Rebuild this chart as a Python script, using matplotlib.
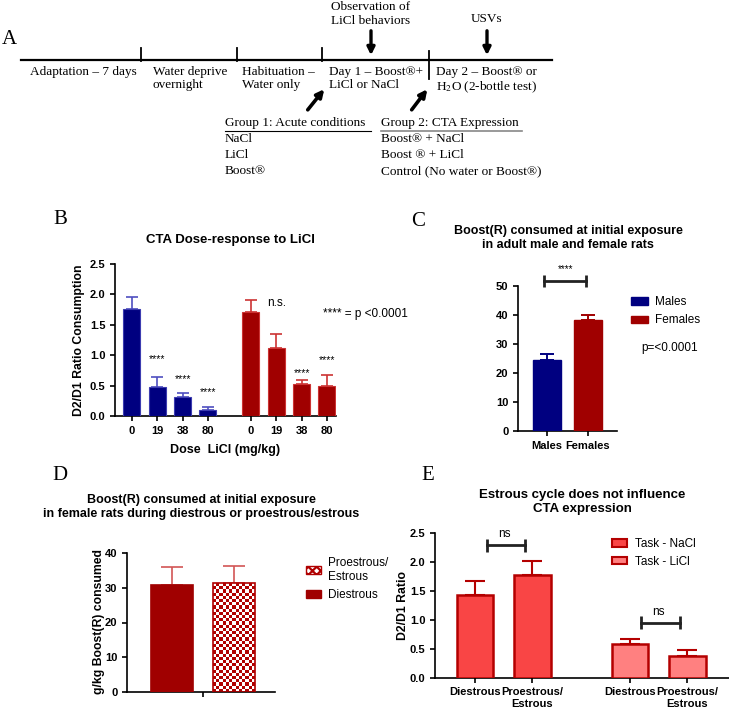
import matplotlib
matplotlib.use('Agg')
import matplotlib.pyplot as plt
import matplotlib.patches as mpatches
from matplotlib.colors import ListedColormap
import numpy as np

plt.rcParams.update({
    'font.family': 'Liberation Sans',
    'axes.linewidth': 1.2,
    'xtick.major.width': 1.2,
    'ytick.major.width': 1.2,
    'xtick.major.size': 3.5,
    'ytick.major.size': 3.5,
    'xtick.labelsize': 8,
    'ytick.labelsize': 8,
    'hatch.linewidth': 1.6,
    'mathtext.fontset': 'stix',
})

W, H = 729, 709
SERIF = 'Liberation Serif'

# ---------------- dados ----------------
# A: linha do tempo
stages = ['Adaptation – 7 days', 'Water deprive\novernight', 'Habituation –\nWater only',
          'Day 1 – Boost®+\nLiCl or NaCl', 'Day 2 – Boost® or\nH$_2$O (2-bottle test)']
events = ['Observation of\nLiCl behaviors', 'USVs']
group1 = ['Group 1: Acute conditions', 'NaCl', 'LiCl', 'Boost®']
group2 = ['Group 2: CTA Expression', 'Boost® + NaCl', 'Boost ® + LiCl', 'Control (No water or Boost®)']

# B: dose-resposta
doses = ['0', '19', '38', '80']
b_blue = [1.76, 0.47, 0.31, 0.10]
b_blue_err = [0.20, 0.17, 0.07, 0.05]
b_red = [1.71, 1.12, 0.53, 0.49]
b_red_err = [0.20, 0.23, 0.07, 0.18]
b_blue_sig = ['', '****', '****', '****']
b_red_sig = ['', 'n.s.', '****', '****']
b_blue_sig_y = [0, 0.93, 0.60, 0.39]
b_red_sig_y = [0, 1.86, 0.71, 0.92]

# C: machos vs femeas
sexes = ['Males', 'Females']
c_vals = [24.5, 38.2]
c_err = [2.1, 1.7]

# D: fase do ciclo
phases = ['Diestrous', 'Proestrous/\nEstrous']
d_vals = [30.9, 31.3]
d_err = [5.1, 5.0]

# E: expressao CTA
e_ticklabels = ['Diestrous', 'Proestrous/\nEstrous']
e_nacl = [1.42, 1.77]
e_nacl_err = [0.24, 0.25]
e_licl = [0.58, 0.38]
e_licl_err = [0.08, 0.10]
e_bracket_y = [2.28, 0.95]

NAVY = '#000080'
DRED = '#A00000'

fig = plt.figure(figsize=(W / 100, H / 100), dpi=100)


def px_axes(left, top, right, bottom):
    return fig.add_axes([left / W, 1 - bottom / H, (right - left) / W, (bottom - top) / H])


def fx(x):
    return x / W


def fy(y):
    return 1 - y / H


def style_axes(ax):
    ax.spines['top'].set_visible(False)
    ax.spines['right'].set_visible(False)
    ax.tick_params(direction='out')
    for lbl in ax.get_xticklabels() + ax.get_yticklabels():
        lbl.set_fontweight('bold')


# ═══════════ A: esquema ═══════════
axA = fig.add_axes([0, 0, 1, 1], zorder=0)
axA.set_xlim(0, W)
axA.set_ylim(H, 0)
axA.axis('off')

axA.plot([21, 552], [60, 60], color='black', lw=1.6)
for x in [141.5, 237, 322]:
    axA.plot([x, x], [48, 61], color='black', lw=1.3)
axA.plot([429, 429], [51, 79], color='black', lw=1.3)

stage_x = [30, 153, 242, 329, 436]
for x, s in zip(stage_x, stages):
    axA.text(x, 66, s, ha='left', va='top', fontsize=9.5, family=SERIF, linespacing=1.15)

event_x = [371, 487]
axA.text(event_x[0], 14, events[0], ha='center', va='center', fontsize=9.5, family=SERIF,
         linespacing=1.15)
axA.text(event_x[1], 19, events[1], ha='center', va='center', fontsize=9.5, family=SERIF)
for x in event_x:
    axA.annotate('', xy=(x, 58), xytext=(x, 28),
                 arrowprops=dict(arrowstyle='-|>', lw=2.4, color='black', mutation_scale=11))

axA.annotate('', xy=(326, 87), xytext=(306, 112),
             arrowprops=dict(arrowstyle='-|>', lw=2.6, color='black', mutation_scale=11))
axA.annotate('', xy=(429, 87), xytext=(410, 112),
             arrowprops=dict(arrowstyle='-|>', lw=2.6, color='black', mutation_scale=11))

for i, (g1, g2) in enumerate(zip(group1, group2)):
    axA.text(225, 123 + i * 16, g1, ha='left', va='center', fontsize=9.5, family=SERIF)
    axA.text(381, 123 + i * 16, g2, ha='left', va='center', fontsize=9.5, family=SERIF)
axA.plot([225, 371], [131, 131], color='black', lw=0.8)
axA.plot([381, 522], [131, 131], color='#888888', lw=1.2)

for letter, (x, y) in zip('ABCDE', [(9, 39), (60, 220), (418, 221), (60, 476), (428, 475)]):
    axA.text(x, y, letter, ha='center', va='center', fontsize=15, family=SERIF)

# ═══════════ B ═══════════
axB = px_axes(115, 264, 336, 416)
xb_blue = np.arange(len(doses))
xb_red = np.arange(len(doses)) + 4.7
axB.bar(xb_blue, b_blue, width=0.67, color=NAVY, edgecolor='#3C3CB0', lw=0.8, zorder=3)
axB.errorbar(xb_blue, b_blue, yerr=[np.zeros(4), b_blue_err], fmt='none', ecolor='#4F4FC0',
             elinewidth=1.2, capsize=4.3, capthick=1.2, zorder=2)
axB.bar(xb_red, b_red, width=0.67, color=DRED, edgecolor='#CC3333', lw=0.8, zorder=3)
axB.errorbar(xb_red, b_red, yerr=[np.zeros(4), b_red_err], fmt='none', ecolor='#CC3333',
             elinewidth=1.2, capsize=4.3, capthick=1.2, zorder=2)
for xs, labels, ys in [(xb_blue, b_blue_sig, b_blue_sig_y), (xb_red, b_red_sig, b_red_sig_y)]:
    for x, lab, y in zip(xs, labels, ys):
        if lab:
            fs = 8.5 if lab == 'n.s.' else 7.5
            axB.text(x, y, lab, ha='center', va='center', fontsize=fs)
axB.set_xlim(-0.67, 8.06)
axB.set_ylim(0, 2.5)
axB.set_yticks(np.arange(0, 2.51, 0.5))
axB.set_yticklabels([f'{v:.1f}' for v in np.arange(0, 2.51, 0.5)])
axB.set_xticks(np.concatenate([xb_blue, xb_red]))
axB.set_xticklabels(doses + doses)
axB.set_xlabel('Dose  LiCl (mg/kg)', fontsize=9, fontweight='bold', labelpad=6)
style_axes(axB)
fig.text(fx(79), fy(340), 'D2/D1 Ratio Consumption', rotation=90, ha='center', va='center',
         fontsize=8.8, fontweight='bold')
fig.text(fx(230), fy(240), 'CTA Dose-response to LiCl', ha='center', va='center',
         fontsize=9.5, fontweight='bold')
fig.text(fx(323), fy(314), '**** = p <0.0001', ha='left', va='center', fontsize=8.5)

# ═══════════ C ═══════════
axC = px_axes(518, 286, 617, 431)
xc = np.arange(len(sexes))
c_colors = [NAVY, DRED]
axC.bar(xc, c_vals, width=0.68, color=c_colors, edgecolor=c_colors, zorder=3)
for x, v, e, c in zip(xc, c_vals, c_err, c_colors):
    axC.errorbar(x, v, yerr=[[0], [e]], fmt='none', ecolor=c, elinewidth=1.4, capsize=5,
                 capthick=1.4, zorder=2)
axC.set_xlim(-0.71, 1.71)
axC.set_ylim(0, 50)
axC.set_yticks(np.arange(0, 51, 10))
axC.set_xticks(xc)
axC.set_xticklabels(sexes)
style_axes(axC)
by = 51.7
axC.plot([xc[0] - 0.07, xc[1] - 0.05], [by, by], color='#222222', lw=2, clip_on=False)
axC.vlines([xc[0] - 0.07, xc[1] - 0.05], by - 2.2, by + 2.2, color='#222222', lw=2, clip_on=False)
axC.text((xc[0] + xc[1]) / 2 - 0.04, by + 4.2, '****', ha='center', va='center', fontsize=7,
         clip_on=False)
fig.text(fx(568), fy(238), 'Boost(R) consumed at initial exposure\nin adult male and female rats',
         ha='center', va='center', fontsize=9, fontweight='bold', linespacing=1.25)
c_handles = [mpatches.Patch(facecolor=c, edgecolor=c) for c in c_colors]
fig.legend(c_handles, sexes, loc='upper left', bbox_to_anchor=(fx(631), fy(296)), frameon=False,
           borderpad=0, borderaxespad=0, handlelength=1.45, handleheight=0.6, handletextpad=0.6,
           labelspacing=0.55, fontsize=8.5)
fig.text(fx(641), fy(348), 'p=<0.0001', ha='left', va='center', fontsize=8.5)

# ═══════════ D ═══════════
axD = px_axes(127, 553, 275, 692)
xd = np.arange(len(phases))
bars_d = axD.bar(xd, d_vals, width=0.68, color=[DRED, 'none'], edgecolor=[DRED, '#B00000'],
                 lw=1.2, zorder=3)
axD.errorbar(xd, d_vals, yerr=[np.zeros(2), d_err], fmt='none', ecolor='#D25555',
             elinewidth=1.2, capsize=8, capthick=1.2, zorder=2)
axD.set_xlim(-0.73, 1.67)
axD.set_ylim(0, 40)

# xadrez da barra proestrous/estrous
chk = bars_d[1]
p0 = axD.transData.transform((chk.get_x(), 0))
p1 = axD.transData.transform((chk.get_x() + chk.get_width(), chk.get_height()))
nx = max(2, int(round((p1[0] - p0[0]) / 3.2)))
ny = max(2, int(round((p1[1] - p0[1]) / 3.2)))
checker = np.add.outer(np.arange(ny), np.arange(nx)) % 2
im = axD.imshow(checker, extent=(chk.get_x(), chk.get_x() + chk.get_width(), 0, chk.get_height()),
                cmap=ListedColormap(['white', '#B00000']), interpolation='nearest',
                aspect='auto', zorder=2.5)
im.set_clip_path(chk)
axD.set_xlim(-0.73, 1.67)
axD.set_ylim(0, 40)

axD.set_yticks(np.arange(0, 41, 10))
axD.set_xticks([xd.mean()])
axD.set_xticklabels([''])
style_axes(axD)
fig.text(fx(99), fy(622), 'g/kg Boost(R) consumed', rotation=90, ha='center', va='center',
         fontsize=8.8, fontweight='bold')
fig.text(fx(201), fy(507),
         'Boost(R) consumed at initial exposure\nin female rats during diestrous or proestrous/estrous',
         ha='center', va='center', fontsize=9, fontweight='bold', linespacing=1.25)
d_handles = [mpatches.Patch(facecolor='white', edgecolor='#B00000', hatch='xxxx'),
             mpatches.Patch(facecolor=DRED, edgecolor=DRED)]
fig.legend(d_handles, phases[::-1], loc='upper left', bbox_to_anchor=(fx(306), fy(557)),
           frameon=False, borderpad=0, borderaxespad=0, handlelength=1.3, handleheight=0.6,
           handletextpad=0.6, labelspacing=0.55, fontsize=8.5)

# ═══════════ E ═══════════
axE = px_axes(435, 532.7, 729, 677.7)
xe_nacl = np.arange(2)
xe_licl = np.arange(2) + 2.7
E_EDGE = '#B40000'
axE.bar(xe_nacl, e_nacl, width=0.64, color='#F94545', edgecolor=E_EDGE, lw=1.8, zorder=3)
axE.bar(xe_licl, e_licl, width=0.64, color='#FF8080', edgecolor=E_EDGE, lw=1.8, zorder=3)
axE.errorbar(xe_nacl, e_nacl, yerr=[np.zeros(2), e_nacl_err], fmt='none', ecolor=E_EDGE,
             elinewidth=1.5, capsize=7, capthick=1.5, zorder=2)
axE.errorbar(xe_licl, e_licl, yerr=[np.zeros(2), e_licl_err], fmt='none', ecolor=E_EDGE,
             elinewidth=1.5, capsize=7, capthick=1.5, zorder=2)
for xs, y in zip([xe_nacl, xe_licl], e_bracket_y):
    x0, x1 = xs[0] + 0.2, xs[1] - 0.13
    axE.plot([x0, x1], [y, y], color='#222222', lw=2)
    axE.vlines([x0, x1], y - 0.11, y + 0.11, color='#222222', lw=2)
    axE.text((x0 + x1) / 2 - 0.03, y + 0.19, 'ns', ha='center', va='center', fontsize=8.5)
axE.set_xlim(-0.70, 4.43)
axE.set_ylim(0, 2.5)
axE.set_yticks(np.arange(0, 2.51, 0.5))
axE.set_yticklabels([f'{v:.1f}' for v in np.arange(0, 2.51, 0.5)])
axE.set_xticks(np.concatenate([xe_nacl, xe_licl]))
axE.set_xticklabels(e_ticklabels * 2)
style_axes(axE)
fig.text(fx(403), fy(606), 'D2/D1 Ratio', rotation=90, ha='center', va='center',
         fontsize=8.8, fontweight='bold')
fig.text(fx(582), fy(502), 'Estrous cycle does not influence\nCTA expression',
         ha='center', va='center', fontsize=9.5, fontweight='bold', linespacing=1.2)
e_handles = [mpatches.Patch(facecolor='#F94545', edgecolor=E_EDGE, lw=1.5),
             mpatches.Patch(facecolor='#FF8080', edgecolor=E_EDGE, lw=1.5)]
fig.legend(e_handles, ['Task - NaCl', 'Task - LiCl'], loc='upper left',
           bbox_to_anchor=(fx(612), fy(538)), frameon=False, borderpad=0, borderaxespad=0,
           handlelength=1.25, handleheight=0.6, handletextpad=0.7, labelspacing=0.5, fontsize=8.5)

fig.savefig('out.png', dpi=100)
